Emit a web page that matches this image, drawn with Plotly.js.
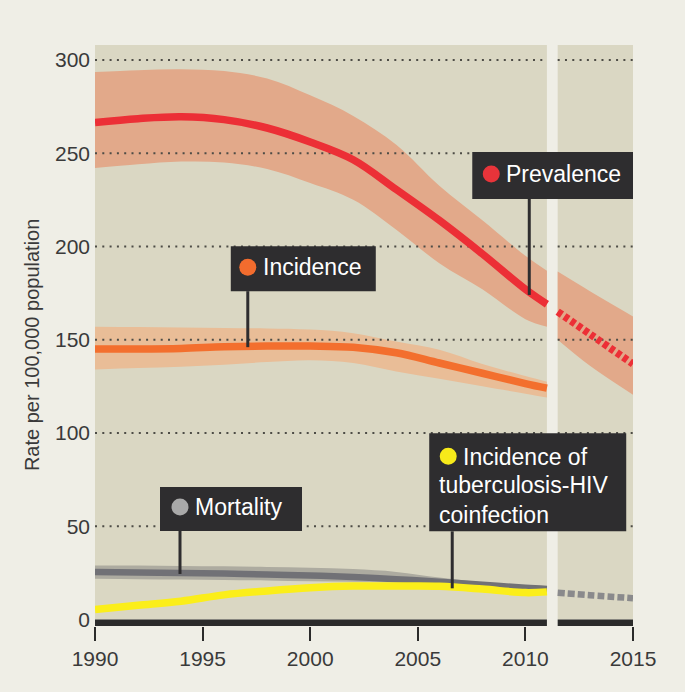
<!DOCTYPE html>
<html>
<head>
<meta charset="utf-8">
<script src="https://cdn.plot.ly/plotly-3.0.1.min.js"></script>
<style>
  html, body { margin: 0; padding: 0; background: #efeee6; }
  #chart { width: 685px; height: 692px; }
</style>
</head>
<body>
<div id="chart"></div>
<script>
// estimates (rate per 100,000 population)
const years = [1990, 1992, 1994, 1996, 1998, 2000, 2002, 2004, 2006, 2008, 2010, 2011];
const prevalence = [266.5, 268.5, 269.5, 268, 263.5, 256, 246.5, 230.5, 214, 196, 177, 169];
const prevalenceHigh = [293.5, 294.5, 295, 294, 290, 281, 270, 254.5, 232.5, 214, 195, 187];
const prevalenceLow = [242, 244, 245.5, 245, 241.5, 234, 225, 209, 191, 177, 161, 157];
const incidence = [145, 145, 145.3, 146.2, 146.6, 146.6, 146, 143, 137.5, 132, 126.5, 124];
const incidenceHigh = [157, 156.8, 156.5, 156.3, 156, 155.4, 153.5, 149, 144.6, 137, 130.5, 127.5];
const incidenceLow = [134, 134.8, 135.5, 136.6, 138, 139, 137.5, 133, 129, 125, 121, 119];
const mortality = [25.5, 25.2, 24.9, 24.6, 24.1, 23.6, 22.8, 21.6, 20.2, 18.6, 17, 16.4];
const mortalityHigh = [29, 28.9, 28.7, 28.5, 28.1, 27.7, 27, 25.5, 22.5, 20, 18, 17.3];
const mortalityLow = [21.8, 21.6, 21.4, 21.2, 20.9, 20.5, 20.2, 19.8, 19, 17.8, 16.2, 15.5];
const hivCoinfection = [5.4, 7.6, 9.8, 13.2, 15.3, 17, 17.9, 17.9, 17.8, 16.3, 14.4, 14.8];

// projections
const projYears = [2011.5, 2013, 2015];
const prevalenceProj = [165, 153, 137];
const prevalenceProjHigh = [186.5, 176, 162.5];
const prevalenceProjLow = [150, 136, 120.5];
const mortalityProj = [14.3, 13, 11.4];

const xTicks = [1990, 1995, 2000, 2005, 2010, 2015];
const yTicks = [0, 50, 100, 150, 200, 250, 300];
const panels = [[1990, 2011], [2011.5, 2015]];

const PAPER = '#efeee6';
const PANEL = '#dad7c3';
const FONT = 'Liberation Sans, Arial, sans-serif';

function band(x, lo, hi, color) {
  return [
    { x: x, y: lo, type: 'scatter', mode: 'lines', line: { width: 0, shape: 'spline', smoothing: 1 }, hoverinfo: 'skip' },
    { x: x, y: hi, type: 'scatter', mode: 'lines', fill: 'tonexty', fillcolor: color,
      line: { width: 0, shape: 'spline', smoothing: 1 }, hoverinfo: 'skip' }
  ];
}

function line(x, y, color, width, dash) {
  return { x: x, y: y, type: 'scatter', mode: 'lines',
    line: { color: color, width: width, shape: 'spline', smoothing: 1, dash: dash || 'solid' } };
}

// dotted grid lines sit above the bands but below the lines
const gridX = [], gridY = [];
yTicks.filter(v => v > 0).forEach(v => {
  panels.forEach(p => { gridX.push(p[0], p[1], null); gridY.push(v, v, null); });
});
const gridTrace = { x: gridX, y: gridY, type: 'scatter', mode: 'lines',
  line: { color: '#4d4c46', width: 2, dash: '2px,5.3px' }, hoverinfo: 'skip' };

const traces = [
  ...band(years, prevalenceLow, prevalenceHigh, '#e2a98a'),
  ...band(projYears, prevalenceProjLow, prevalenceProjHigh, '#e2a98a'),
  ...band(years, incidenceLow, incidenceHigh, '#e9bd97'),
  ...band(years, mortalityLow, mortalityHigh, '#adaba0'),
  gridTrace,
  line(years, prevalence, '#ec2f36', 7.5),
  line(projYears, prevalenceProj, '#ec2f36', 7.5, '5px,3px'),
  line(years, incidence, '#f36f2e', 7.5),
  line(years, mortality, '#717176', 6.5),
  line(projYears, mortalityProj, '#8a8a8c', 6.5, '7px,3px'),
  line(years, hivCoinfection, '#fbee1a', 7.5)
];

// label boxes: anchor on the curve, box geometry in pixel offsets (y up)
const labels = [
  { text: 'Prevalence', dot: '#e8343a', at: [2010.18, 174], box: [-57, 104, 96, 143], dotAt: [-38, 121], textAt: [-25, 121] },
  { text: 'Incidence', dot: '#f26c2e', at: [1997.1, 146], box: [-17, 128, 56, 101], dotAt: [0, 80], textAt: [13, 80] },
  { text: 'Mortality', dot: '#a9a9a9', at: [1993.95, 24.4], box: [-20, 122, 43, 87], dotAt: [0, 67], textAt: [13, 67] },
  { text: 'Incidence of', dot: '#f7ea1a', at: [2006.6, 16.7], box: [-23, 174, 57, 155], dotAt: [-4, 132], textAt: [9, 131],
    extra: { text: 'tuberculosis-HIV<br>coinfection', textAt: [-15, 88] } }
];

const shapes = [];
panels.forEach(p => {
  shapes.push({ type: 'rect', xref: 'x', yref: 'y', x0: p[0], x1: p[1], y0: 0, y1: 308,
    fillcolor: PANEL, line: { width: 0 }, layer: 'below' });
  shapes.push({ type: 'rect', xref: 'x', yref: 'y', x0: p[0], x1: p[1], y0: -3.5, y1: 0,
    fillcolor: '#2b2b2b', line: { width: 0 }, layer: 'above' });
});

const annotations = [];
labels.forEach(l => {
  const base = { xref: 'x', yref: 'y', xsizemode: 'pixel', ysizemode: 'pixel', xanchor: l.at[0], yanchor: l.at[1], layer: 'above' };
  shapes.push({ ...base, type: 'line', x0: 0, x1: 0, y0: 0, y1: l.box[2], line: { color: '#2e2d2f', width: 3 } });
  shapes.push({ ...base, type: 'rect', x0: l.box[0], x1: l.box[1], y0: l.box[2], y1: l.box[3],
    fillcolor: '#2e2d2f', line: { width: 0 } });
  shapes.push({ ...base, type: 'circle', x0: l.dotAt[0] - 8.5, x1: l.dotAt[0] + 8.5, y0: l.dotAt[1] - 8.5, y1: l.dotAt[1] + 8.5,
    fillcolor: l.dot, line: { width: 0 } });
  annotations.push({ x: l.at[0], y: l.at[1], xref: 'x', yref: 'y', text: l.text, showarrow: false,
    xanchor: 'left', yanchor: 'middle', xshift: l.textAt[0], yshift: l.textAt[1], align: 'left',
    font: { family: FONT, size: 23, color: '#ffffff' } });
  if (l.extra) {
    annotations.push({ x: l.at[0], y: l.at[1], xref: 'x', yref: 'y', text: l.extra.text, showarrow: false,
      xanchor: 'left', yanchor: 'middle', xshift: l.extra.textAt[0], yshift: l.extra.textAt[1], align: 'left',
      font: { family: FONT, size: 23, color: '#ffffff' } });
  }
});

annotations.push({ text: 'Rate per 100,000 population', xref: 'paper', yref: 'paper', x: -0.117, y: 0.4836,
  xanchor: 'center', yanchor: 'middle', textangle: -90, showarrow: false,
  font: { family: FONT, size: 20, color: '#3a3a3a' } });

const layout = {
  width: 685,
  height: 692,
  margin: { l: 95, r: 52, t: 45, b: 66 },
  paper_bgcolor: PAPER,
  plot_bgcolor: PAPER,
  showlegend: false,
  font: { family: FONT, color: '#3a3a3a' },
  xaxis: {
    range: [1990, 2015],
    tickvals: xTicks,
    ticktext: xTicks.map(String),
    ticks: 'outside', ticklen: 14, tickwidth: 2, tickcolor: '#2b2b2b',
    showgrid: false, zeroline: false, showline: false,
    tickfont: { family: FONT, size: 21, color: '#3a3a3a' }
  },
  yaxis: {
    range: [-3.5, 308],
    tickvals: yTicks,
    ticktext: yTicks.map(String),
    ticks: '',
    showgrid: false, zeroline: false, showline: false,
    ticklabelstandoff: 4,
    tickfont: { family: FONT, size: 21, color: '#3a3a3a' }
  },
  shapes: shapes,
  annotations: annotations
};

Plotly.newPlot('chart', traces, layout, { displayModeBar: false, staticPlot: true });
</script>
</body>
</html>
